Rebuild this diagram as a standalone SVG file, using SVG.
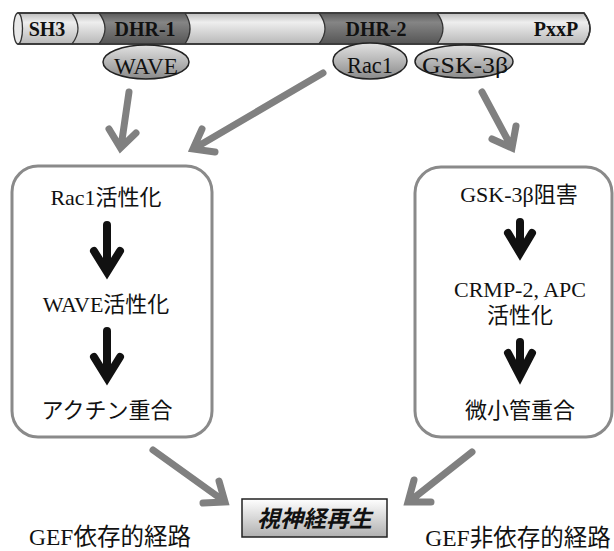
<svg xmlns="http://www.w3.org/2000/svg" width="614" height="551" viewBox="0 0 614 551">
<defs>
<linearGradient id="gLight" x1="0" y1="0" x2="0" y2="1">
<stop offset="0" stop-color="#bdbdbd"/><stop offset="0.3" stop-color="#eeeeee"/><stop offset="1" stop-color="#b8b8b8"/>
</linearGradient>
<linearGradient id="gDark" x1="0" y1="0" x2="0" y2="1">
<stop offset="0" stop-color="#5a5a5a"/><stop offset="0.3" stop-color="#858585"/><stop offset="1" stop-color="#555"/>
</linearGradient>
<linearGradient id="gOval" x1="0" y1="0" x2="0" y2="1">
<stop offset="0" stop-color="#e2e2e2"/><stop offset="1" stop-color="#8a8a8a"/>
</linearGradient>
<linearGradient id="gBox" x1="0" y1="0" x2="0" y2="1">
<stop offset="0" stop-color="#ffffff"/><stop offset="1" stop-color="#b0b0b0"/>
</linearGradient>
</defs>
<style>
.t{font-family:"Liberation Serif","Noto Sans CJK JP",serif;fill:#111;text-anchor:middle}
.bt{font-family:"Liberation Serif",serif;font-weight:bold;fill:#111;text-anchor:middle;font-size:20px}
.box{fill:#fff;stroke:#8a8a8a;stroke-width:3}
.oval{fill:url(#gOval);stroke:#222;stroke-width:1.5}
.sep{fill:none;stroke:#333;stroke-width:1.3}
.ga{fill:none;stroke:#808080;stroke-width:7;stroke-linecap:round;stroke-linejoin:miter}
.ba{fill:none;stroke:#111;stroke-width:8;stroke-linecap:round;stroke-linejoin:miter}
</style>

<g id="protein-bar">
<path d="M18,13 H584 Q596,28.5 584,44 H18 Z" fill="url(#gLight)" stroke="#333" stroke-width="1.5"/>
<path d="M99,13 H185 Q195,28.5 185,44 H99 Q111,28.5 99,13 Z" fill="url(#gDark)"/>
<path d="M319,13 H437 Q449,28.5 437,44 H319 Q331,28.5 319,13 Z" fill="url(#gDark)"/>
<path d="M18,13 H584 Q596,28.5 584,44 H18" fill="none" stroke="#333" stroke-width="1.5"/>
<ellipse cx="18" cy="28.5" rx="4.5" ry="15.5" fill="#e8e8e8" stroke="#333" stroke-width="1.3"/>
<path class="sep" d="M72,13 Q84,28.5 72,44"/>
<path class="sep" d="M99,13 Q111,28.5 99,44"/>
<path class="sep" d="M185,13 Q195,28.5 185,44"/>
<path class="sep" d="M319,13 Q331,28.5 319,44"/>
<path class="sep" d="M437,13 Q449,28.5 437,44"/>
<text class="bt" x="47" y="36">SH3</text>
<text class="bt" x="145" y="36">DHR-1</text>
<text class="bt" x="376" y="36">DHR-2</text>
<text class="bt" x="556" y="36">PxxP</text>
</g>

<g id="wave">
<ellipse class="oval" cx="146" cy="62" rx="43" ry="17"/>
<text class="t" x="146" y="74" font-size="23" textLength="64" lengthAdjust="spacingAndGlyphs">WAVE</text>
</g>
<g id="rac1">
<ellipse class="oval" cx="370" cy="61" rx="37" ry="18"/>
<text class="t" x="370" y="73" font-size="23" textLength="46" lengthAdjust="spacingAndGlyphs">Rac1</text>
</g>
<g id="gsk">
<ellipse class="oval" cx="464" cy="61.5" rx="49" ry="16.5"/>
<text class="t" x="465" y="73" font-size="23" textLength="86" lengthAdjust="spacingAndGlyphs">GSK-3β</text>
</g>

<g id="left-box">
<rect class="box" x="12" y="166" width="200" height="271" rx="26"/>
<text class="t" x="106" y="205" font-size="22">Rac1活性化</text>
<path class="ba" d="M107,225 V270 M94,251 L107,272 L120,251"/>
<text class="t" x="106" y="312" font-size="22">WAVE活性化</text>
<path class="ba" d="M107,331 V376 M94,357 L107,378 L120,357"/>
<text class="t" x="107" y="418" font-size="22">アクチン重合</text>
</g>

<g id="right-box">
<rect class="box" x="415" y="167" width="197" height="270" rx="26"/>
<text class="t" x="519" y="202" font-size="22">GSK-3β阻害</text>
<path class="ba" d="M520,222 V250 M508,233 L520,253 L532,233"/>
<text class="t" x="520" y="297" font-size="22">CRMP-2, APC</text>
<text class="t" x="520" y="323" font-size="22">活性化</text>
<path class="ba" d="M520,342 V372 M508,353 L520,376 L532,353"/>
<text class="t" x="520" y="418" font-size="22">微小管重合</text>
</g>

<g id="regeneration">
<rect x="242" y="499" width="145" height="38" fill="url(#gBox)" stroke="#222" stroke-width="1.5"/>
<text x="314.5" y="527" font-family="'Noto Sans CJK JP',sans-serif" font-weight="bold" font-style="italic" font-size="23" fill="#111" text-anchor="middle">視神経再生</text>
</g>

<g id="labels">
<text class="t" x="110" y="545" font-size="23.5">GEF依存的経路</text>
<text class="t" x="518" y="546" font-size="23.5">GEF非依存的経路</text>
</g>

<g id="connectors">
<path class="ga" d="M129,92 L121,147 M109,129 L120.5,148 L136,133"/>
<path class="ga" d="M323,73 L195,148 M202,129 L193,149 L215,152"/>
<path class="ga" d="M482,92 L511,146 M492,139 L512,148 L516,126"/>
<path class="ga" d="M153,450 L224,501 M203,503 L225,502 L219,481"/>
<path class="ga" d="M472,452 L410,501 M414,480 L408,502 L431,502"/>
</g>
</svg>
